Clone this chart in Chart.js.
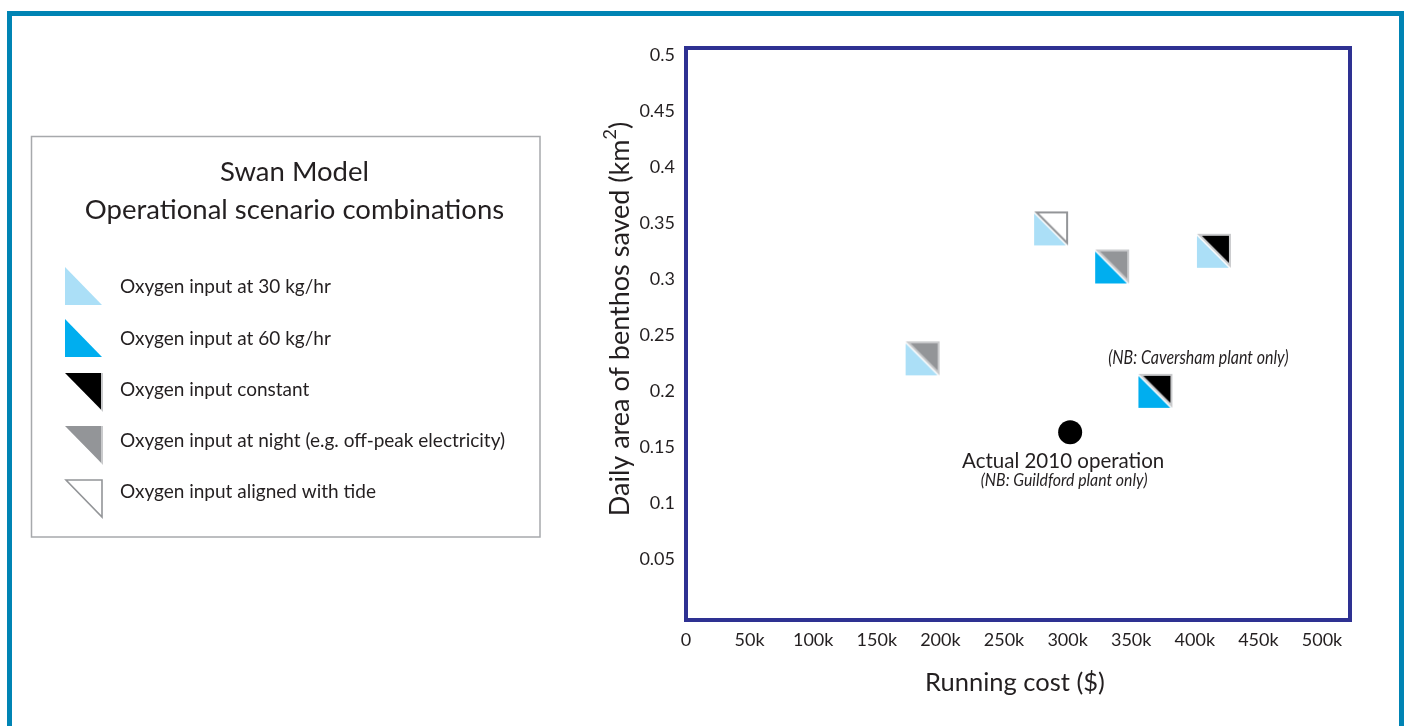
<!DOCTYPE html>
<html><head><meta charset="utf-8">
<script src="https://cdn.jsdelivr.net/npm/chart.js@4"></script>
<style>html,body{margin:0;padding:0;background:#fff;overflow:hidden}canvas{display:block}</style>
</head><body>
<canvas id="c" width="1405" height="726" style="width:1405px;height:726px"></canvas>
<script>
// ---- data ----
const scenarioNames = ['30 kg/hr + night', '30 kg/hr + tide', '60 kg/hr + night', '30 kg/hr + constant', '60 kg/hr + constant'];
const runningCost  = [186000, 287000, 335000, 415000, 369000];
const benthosSaved = [0.229, 0.345, 0.311, 0.325, 0.200];
const oxygenRate   = ['30', '30', '60', '30', '60'];
const oxygenTiming = ['night', 'tide', 'night', 'constant', 'constant'];
const actualName    = 'Actual 2010 operation';
const actualCost    = [302000];
const actualBenthos = [0.163];
const xTicks = [0, 50000, 100000, 150000, 200000, 250000, 300000, 350000, 400000, 450000, 500000];
const yTicks = [0.05, 0.1, 0.15, 0.2, 0.25, 0.3, 0.35, 0.4, 0.45, 0.5];
const legendTitle = ['Swan Model', 'Operational scenario combinations'];
const legendKeys   = ['30', '60', 'constant', 'night', 'tide'];
const legendLabels = ['Oxygen input at 30 kg/hr', 'Oxygen input at 60 kg/hr', 'Oxygen input constant',
                      'Oxygen input at night (e.g. off-peak electricity)', 'Oxygen input aligned with tide'];
const cavershamNote = '(NB: Caversham plant only)';
const guildfordNote = '(NB: Guildford plant only)';
const xTitle = 'Running cost ($)';
const yTitleMain = 'Daily area of benthos saved (km';
const yTitleSup = '2';

// ---- styles ----
const TXT = '#231f20';
const FONT = 'Lato, "Open Sans", "DejaVu Sans", sans-serif';
const rateColor = {'30': '#abdff7', '60': '#00aeef'};
const timingStyle = {
  night:    {fill: '#939598', stroke: '#c9cacc'},
  constant: {fill: '#000000', stroke: '#c9cacc'},
  tide:     {fill: '#ffffff', stroke: '#939598'}
};

function makeMarker(rate, timing) {
  const s = 34, c = document.createElement('canvas');
  c.width = s + 2; c.height = s + 2;
  const g = c.getContext('2d');
  g.translate(1, 1);
  g.fillStyle = rateColor[rate];
  g.beginPath(); g.moveTo(0, 0); g.lineTo(0, s); g.lineTo(s, s); g.closePath(); g.fill();
  g.strokeStyle = '#ffffff'; g.lineWidth = 3;
  g.beginPath(); g.moveTo(0, 0); g.lineTo(s, s); g.stroke();
  const t = timingStyle[timing];
  g.beginPath(); g.moveTo(2.5, 1); g.lineTo(s - 1, 1); g.lineTo(s - 1, s - 2.5); g.closePath();
  g.fillStyle = t.fill; g.fill();
  g.strokeStyle = t.stroke; g.lineWidth = 2; g.lineJoin = 'miter'; g.stroke();
  return c;
}
const markerStyles = oxygenRate.map((r, i) => makeMarker(r, oxygenTiming[i]));

function drawLegendIcon(ctx, key, x, y) {
  const w = 37, h = 38;
  ctx.save();
  if (key === '30' || key === '60') {
    ctx.fillStyle = rateColor[key];
    ctx.beginPath(); ctx.moveTo(x, y); ctx.lineTo(x, y + h); ctx.lineTo(x + w, y + h); ctx.closePath(); ctx.fill();
  } else if (key === 'tide') {
    ctx.fillStyle = '#fff'; ctx.strokeStyle = '#939598'; ctx.lineWidth = 1.6;
    ctx.beginPath(); ctx.moveTo(x + 1, y + 1); ctx.lineTo(x + w, y + 1); ctx.lineTo(x + w, y + h); ctx.closePath();
    ctx.fill(); ctx.stroke();
  } else {
    const t = timingStyle[key];
    ctx.fillStyle = t.stroke;
    ctx.beginPath(); ctx.moveTo(x + 1, y); ctx.lineTo(x + w + 1, y); ctx.lineTo(x + w + 1, y + h + 1); ctx.closePath(); ctx.fill();
    ctx.fillStyle = t.fill;
    ctx.beginPath(); ctx.moveTo(x, y); ctx.lineTo(x + w - 1, y); ctx.lineTo(x + w - 1, y + h - 1.5); ctx.closePath(); ctx.fill();
  }
  ctx.restore();
}

// italic condensed text (horizontal squeeze)
function condensedText(ctx, text, x, y, size, sx) {
  ctx.save();
  ctx.translate(x, y); ctx.scale(sx, 1);
  ctx.font = 'italic ' + size + 'px ' + FONT;
  ctx.textAlign = 'center'; ctx.textBaseline = 'middle';
  ctx.fillText(text, 0, 0);
  ctx.restore();
}

const decorPlugin = {
  id: 'decor',
  beforeDraw(chart) {
    const ctx = chart.ctx;
    ctx.save();
    ctx.fillStyle = '#fff'; ctx.fillRect(0, 0, chart.width, chart.height);
    // outer frame
    ctx.fillStyle = '#0084b4';
    ctx.fillRect(7, 11, 5, chart.height - 11);
    ctx.fillRect(7, 11, 1398 - 7 + 6, 5);
    ctx.fillRect(1399, 11, 5, chart.height - 11);
    // legend box
    ctx.strokeStyle = '#a7a9ac'; ctx.lineWidth = 1.5;
    ctx.strokeRect(31.5, 136.5, 508.5, 400.5);
    ctx.fillStyle = TXT; ctx.textAlign = 'center'; ctx.textBaseline = 'middle';
    ctx.font = '27.5px ' + FONT;
    ctx.fillText(legendTitle[0], 294.5, 172);
    ctx.fillText(legendTitle[1], 294.5, 210);
    const rowY = [286, 338, 392, 445, 498];
    const textY = [287, 339, 390, 441, 492];
    ctx.textAlign = 'left'; ctx.font = '19px ' + FONT;
    legendKeys.forEach((k, i) => {
      drawLegendIcon(ctx, k, 65, rowY[i] - 19);
      ctx.fillStyle = TXT;
      ctx.fillText(legendLabels[i], 120, textY[i]);
    });
    ctx.restore();
  },
  beforeDatasetsDraw(chart) {
    const {ctx, chartArea: a} = chart;
    ctx.save();
    ctx.strokeStyle = '#2e3192'; ctx.lineWidth = 4;
    ctx.strokeRect(a.left, a.top, a.right - a.left, a.bottom - a.top);
    ctx.restore();
  },
  afterDraw(chart) {
    const {ctx, chartArea: a, scales: {x, y}} = chart;
    ctx.save();
    ctx.fillStyle = TXT; ctx.textBaseline = 'middle'; ctx.textAlign = 'center';
    // x title
    ctx.font = '25.5px ' + FONT;
    ctx.fillText(xTitle, 1015, 683);
    // y title (rotated) with superscript
    ctx.translate(620, 319); ctx.rotate(-Math.PI / 2);
    const big = '27px ' + FONT, small = '18px ' + FONT;
    ctx.font = big;
    const wMain = ctx.measureText(yTitleMain).width;
    const wEnd = ctx.measureText(')').width;
    ctx.font = small;
    const wSup = ctx.measureText(yTitleSup).width;
    const sx = -(wMain + wSup + wEnd) / 2;
    ctx.textAlign = 'left';
    ctx.font = big;
    ctx.fillText(yTitleMain, sx, 0);
    ctx.fillText(')', sx + wMain + wSup, 0);
    ctx.font = small;
    ctx.fillText(yTitleSup, sx + wMain, -10);
    ctx.setTransform(1, 0, 0, 1, 0, 0);
    // annotations
    ctx.textAlign = 'center';
    const cx = x.getPixelForValue(runningCost[4]), cy = y.getPixelForValue(benthosSaved[4]);
    condensedText(ctx, cavershamNote, cx + 43, cy - 33, 19, 0.84);
    const ax = x.getPixelForValue(actualCost[0]), ay = y.getPixelForValue(actualBenthos[0]);
    ctx.font = '20.5px ' + FONT;
    ctx.fillText(actualName, ax - 7, ay + 29);
    condensedText(ctx, guildfordNote, ax - 6, ay + 48, 18, 0.88);
    ctx.restore();
  }
};

new Chart(document.getElementById('c'), {
  type: 'scatter',
  data: {
    datasets: [
      {
        label: 'Scenarios',
        data: runningCost.map((v, i) => ({x: v, y: benthosSaved[i]})),
        pointStyle: markerStyles,
        pointRadius: 17
      },
      {
        label: actualName,
        data: actualCost.map((v, i) => ({x: v, y: actualBenthos[i]})),
        pointStyle: 'circle',
        pointRadius: 12,
        backgroundColor: '#000',
        borderWidth: 0
      }
    ]
  },
  options: {
    responsive: false,
    devicePixelRatio: 1,
    animation: false,
    layout: {padding: {left: 0, right: 55, top: 48, bottom: 0}},
    plugins: {legend: {display: false}, tooltip: {enabled: false}},
    scales: {
      x: {
        type: 'linear', min: 0, max: 522000,
        afterBuildTicks: s => { s.ticks = xTicks.map(v => ({value: v})); },
        afterFit: s => { s.height = 106; },
        grid: {display: false, drawTicks: false},
        border: {display: false},
        ticks: {
          autoSkip: false, maxRotation: 0, padding: 9, color: TXT,
          font: {family: FONT, size: 18},
          callback: v => v === 0 ? '0' : (v / 1000) + 'k'
        }
      },
      y: {
        type: 'linear', min: -0.0045, max: 0.506,
        afterBuildTicks: s => { s.ticks = yTicks.map(v => ({value: v})); },
        afterFit: s => { s.width = 686; },
        grid: {display: false, drawTicks: false},
        border: {display: false},
        ticks: {
          autoSkip: false, padding: 11, color: TXT,
          font: {family: FONT, size: 18},
          callback: v => String(+v.toFixed(2))
        }
      }
    }
  },
  plugins: [decorPlugin]
});
</script>
</body></html>
